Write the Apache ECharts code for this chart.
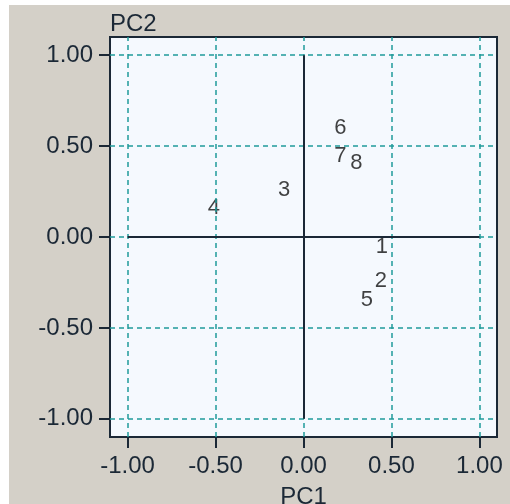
<!DOCTYPE html>
<html>
<head>
<meta charset="utf-8">
<script src="https://cdn.jsdelivr.net/npm/echarts@6/dist/echarts.min.js"></script>
<style>
  html, body { margin: 0; padding: 0; background: #ffffff; width: 510px; height: 504px; overflow: hidden; }
  #chart { position: absolute; left: 9px; top: 5px; width: 501px; height: 499px; }
</style>
</head>
<body>
<div id="chart"></div>
<script>
// ---- data ----
const labels = ['1', '2', '3', '4', '5', '6', '7', '8'];
const pc1Values = [0.445, 0.44, -0.11, -0.51, 0.36, 0.21, 0.21, 0.30];
const pc2Values = [-0.055, -0.24, 0.26, 0.16, -0.345, 0.60, 0.445, 0.41];
const tickValues = [-1, -0.5, 0, 0.5, 1];
const tickLabels = ['-1.00', '-0.50', '0.00', '0.50', '1.00'];
const axisMin = -1.1;
const axisMax = 1.1;

// ---- style ----
const FONT = "'Liberation Sans', Arial, sans-serif";
const DARK = '#1b2836';
const TEAL = '#1f9a9a';

const chart = echarts.init(document.getElementById('chart'), null, { renderer: 'canvas' });

const points = labels.map((l, i) => ({ value: [pc1Values[i], pc2Values[i]], name: l }));

function fmt(v) {
  const idx = tickValues.findIndex(t => Math.abs(t - v) < 1e-9);
  return idx >= 0 ? tickLabels[idx] : '';
}

const gridLines = [];
tickValues.forEach(v => { gridLines.push({ xAxis: v }); gridLines.push({ yAxis: v }); });

const axisCommon = {
  type: 'value',
  min: axisMin,
  max: axisMax,
  axisLine: { show: false, onZero: false },
  splitLine: { show: false },
  axisTick: { show: true, inside: false, length: 11, customValues: tickValues, lineStyle: { color: DARK, width: 2 } },
  axisLabel: { show: true, customValues: tickValues, formatter: fmt, color: DARK, fontFamily: FONT, fontSize: 24 }
};

chart.setOption({
  backgroundColor: '#d4d0c8',
  animation: false,
  grid: {
    left: 101, top: 32, width: 387, height: 400,
    outerBoundsMode: 'none', containLabel: false,
    show: true, backgroundColor: '#f5f9fe', borderColor: DARK, borderWidth: 2
  },
  xAxis: Object.assign({}, axisCommon, {
    position: 'bottom',
    name: 'PC1', nameLocation: 'middle', nameGap: 48,
    nameTextStyle: { color: DARK, fontFamily: FONT, fontSize: 24 },
    axisLabel: Object.assign({}, axisCommon.axisLabel, { margin: 17 })
  }),
  yAxis: Object.assign({}, axisCommon, {
    position: 'left',
    name: 'PC2', nameLocation: 'end', nameGap: 13,
    nameTextStyle: { color: DARK, fontFamily: FONT, fontSize: 24, align: 'left', verticalAlign: 'middle' },
    axisLabel: Object.assign({}, axisCommon.axisLabel, { margin: 17 })
  }),
  series: [
    {
      type: 'line', data: [], z: 1, silent: true,
      markLine: {
        silent: true, symbol: ['none', 'none'], animation: false,
        label: { show: false },
        lineStyle: { color: TEAL, type: [5, 4], width: 1.5 },
        data: gridLines
      }
    },
    {
      type: 'line', data: [], z: 2, silent: true,
      markLine: {
        silent: true, symbol: ['none', 'none'], animation: false,
        label: { show: false },
        lineStyle: { color: DARK, type: 'solid', width: 2 },
        data: [
          [{ coord: [tickValues[0], 0] }, { coord: [tickValues[tickValues.length - 1], 0] }],
          [{ coord: [0, tickValues[0]] }, { coord: [0, tickValues[tickValues.length - 1]] }]
        ]
      }
    },
    {
      type: 'scatter', z: 3, silent: true,
      symbolSize: 1,
      itemStyle: { color: 'rgba(0,0,0,0)' },
      label: {
        show: true, position: 'inside', formatter: p => p.name,
        color: '#111111', fontFamily: FONT, fontSize: 22
      },
      data: points
    }
  ]
});
</script>
</body>
</html>
